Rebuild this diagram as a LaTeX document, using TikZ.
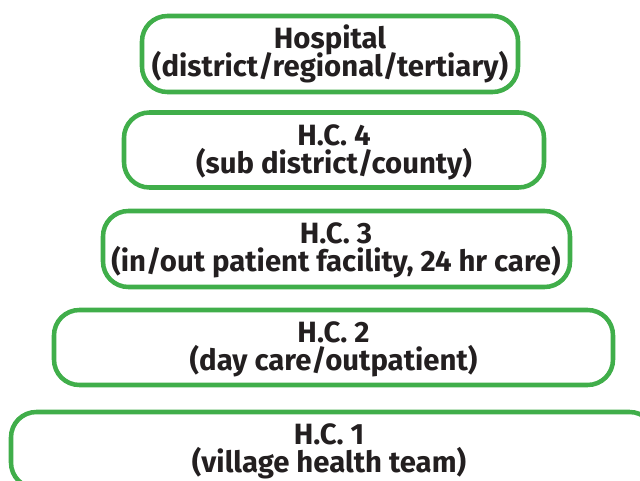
\documentclass[tikz,border=0pt]{standalone}
\usepackage{fontspec}
\setmainfont{Fira Sans}
\definecolor{levelgreen}{RGB}{64,174,74}
\definecolor{labelgray}{RGB}{35,31,32}
\begin{document}
\begin{tikzpicture}[x=0.75pt,y=-0.75pt,
  levelbox/.style={draw=levelgreen, line width=3.4pt, rounded corners=19pt,
    inner sep=0pt},
  levelname/.style={anchor=base, inner sep=0pt, text=labelgray,
    font=\fontsize{22}{26}\selectfont\bfseries}]
  \useasboundingbox (0,0) rectangle (640,481);
  % one rounded box per level of care, widening from top to bottom
  \node[levelbox, minimum width=376*0.75pt, minimum height=76*0.75pt] (hosp) at (330,54) {};
  \node[levelbox, minimum width=420*0.75pt, minimum height=75*0.75pt] (hc4) at (334,150) {};
  \node[levelbox, minimum width=467*0.75pt, minimum height=76*0.75pt] (hc3) at (336.5,249) {};
  \node[levelbox, minimum width=559*0.75pt, minimum height=75*0.75pt] (hc2) at (333.5,347.5) {};
  \node[levelbox, minimum width=644*0.75pt, minimum height=76*0.75pt] (hc1) at (333,450) {};
  % two lines of text in each box
  \node[levelname] (hospA) at (330,49) {Hospital};
  \node[levelname] (hospB) at (330,77) {(district/regional/tertiary)};
  \node[levelname] (hc4A) at (334,145.5) {H.C. 4};
  \node[levelname] (hc4B) at (334,173.5) {(sub district/county)};
  \node[levelname] (hc3A) at (336,244) {H.C. 3};
  \node[levelname] (hc3B) at (336,272) {(in/out patient facility, 24 hr care)};
  \node[levelname] (hc2A) at (333.5,343) {H.C. 2};
  \node[levelname] (hc2B) at (333.5,371) {(day care/outpatient)};
  \node[levelname] (hc1A) at (329,445) {H.C. 1};
  \node[levelname] (hc1B) at (329,473) {(village health team)};
\end{tikzpicture}
\end{document}
